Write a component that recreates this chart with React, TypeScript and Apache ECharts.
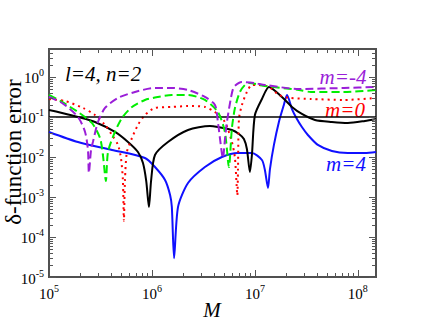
import React, { useEffect, useRef } from 'react';
import * as echarts from 'echarts';

// axis ranges
const xMin = 1e5;
const xMax = 1.5e8;
const yMin = 1e-5;
const yMax = 5;
const refLevel = 0.1;

const xMajorExp = [5, 6, 7, 8];
const yMajorExp = [-5, -4, -3, -2, -1, 0];

// m = -4 (purple dashed)
const mMinus4: [number, number][] = [
  [1e5, 0.316], [1.34e5, 0.224], [1.91e5, 0.1], [2.24e5, 0.0422], [2.39e5, 0.015],
  [2.44e5, 0.004], [2.56e5, 0.015], [2.67e5, 0.0237], [2.99e5, 0.075], [3.5e5, 0.168],
  [4.68e5, 0.299], [6.84e5, 0.422], [1.07e6, 0.531], [1.56e6, 0.531], [2.24e6, 0.473],
  [3.27e6, 0.316], [4.09e6, 0.2], [4.37e6, 0.075], [4.57e6, 0.03], [4.89e6, 0.0094],
  [5.11e6, 0.0266], [5.35e6, 0.075], [5.85e6, 0.299], [6.25e6, 0.562], [7.48e6, 0.75],
  [9.78e6, 0.708], [1.25e7, 0.631], [2.67e7, 0.5], [7.31e7, 0.531], [1.5e8, 0.562],
];

// m = -2 (green dashed)
const mMinus2: [number, number][] = [
  [1e5, 0.355], [1.34e5, 0.237], [1.91e5, 0.133], [2.61e5, 0.0708], [3.13e5, 0.0299],
  [3.34e5, 0.0112], [3.57e5, 0.0025], [3.74e5, 0.0133], [4.37e5, 0.0422], [5.11e5, 0.0944],
  [6.4e5, 0.178], [8.55e5, 0.266], [1.14e6, 0.316], [1.56e6, 0.355], [2.24e6, 0.355],
  [3.27e6, 0.266], [4.37e6, 0.133], [5.11e6, 0.0422], [5.59e6, 0.0056], [5.98e6, 0.0531],
  [6.4e6, 0.168], [7.15e6, 0.422], [8.0e6, 0.631], [8.75e6, 0.708], [1.25e7, 0.596],
  [2.67e7, 0.473], [3.5e7, 0.422], [7.31e7, 0.422], [1.5e8, 0.473],
];

// m = 0 (red dotted)
const m0: [number, number][] = [
  [1e5, 0.28], [1.43e5, 0.25], [2.14e5, 0.168], [2.8e5, 0.112], [3.5e5, 0.0631],
  [4.09e5, 0.0355], [4.68e5, 0.02], [5.0e5, 0.0094], [5.22e5, 0.0027], [5.34e5, 0.00025],
  [5.47e5, 0.0027], [5.71e5, 0.0133], [6.4e5, 0.0299], [7.31e5, 0.0631], [8.55e5, 0.112],
  [1.07e6, 0.168], [1.56e6, 0.178], [2.24e6, 0.188], [3.27e6, 0.178], [4.09e6, 0.133],
  [5.11e6, 0.075], [5.98e6, 0.0237], [6.4e6, 0.0094], [6.75e6, 0.0011], [6.85e6, 0.005],
  [7.0e6, 0.089], [7.48e6, 0.2], [8.36e6, 0.422], [9.35e6, 0.631], [1.07e7, 0.631],
  [1.37e7, 0.562], [1.71e7, 0.355], [2.19e7, 0.299], [3.5e7, 0.282], [7.31e7, 0.266],
  [1.5e8, 0.299],
];

// m = 2 (black solid)
const m2: [number, number][] = [
  [1e5, 0.15], [1.34e5, 0.126], [1.91e5, 0.1], [2.8e5, 0.075], [4.37e5, 0.0422],
  [5.85e5, 0.0237], [7.31e5, 0.0133], [8.18e5, 0.00708], [8.8e5, 0.0025], [9.35e5, 0.00056],
  [9.8e5, 0.0025], [1.07e6, 0.0112], [1.43e6, 0.0237], [2.24e6, 0.0473], [3.65e6, 0.0596],
  [4.37e6, 0.0562], [5.98e6, 0.0473], [7.0e6, 0.0376], [7.82e6, 0.0282], [8.36e6, 0.0158],
  [8.94e6, 0.0042], [9.35e6, 0.0112], [1.0e7, 0.112], [1.17e7, 0.282], [1.37e7, 0.562],
  [1.83e7, 0.316], [2.29e7, 0.178], [2.86e7, 0.119], [3.83e7, 0.0841], [5.59e7, 0.075],
  [8.0e7, 0.0708], [1.17e8, 0.0794], [1.5e8, 0.089],
];

// m = 4 (blue solid)
const m4: [number, number][] = [
  [1e5, 0.0422], [1.91e5, 0.0237], [4.09e5, 0.015], [8.55e5, 0.00944], [1.07e6, 0.00562],
  [1.34e6, 0.00266], [1.5e6, 0.00112], [1.56e6, 0.00056], [1.64e6, 2.95e-5], [1.79e6, 0.00056],
  [2.24e6, 0.00224], [3.27e6, 0.00562], [4.78e6, 0.01], [6.84e6, 0.0126], [9.35e6, 0.0126],
  [1.17e7, 0.00841], [1.25e7, 0.00473], [1.34e7, 0.00168], [1.4e7, 0.005], [1.53e7, 0.02],
  [1.71e7, 0.075], [1.91e7, 0.2], [2.05e7, 0.355], [2.29e7, 0.158], [2.56e7, 0.089],
  [2.86e7, 0.0562], [3.27e7, 0.0355], [4.09e7, 0.02], [5.59e7, 0.0141], [8.0e7, 0.0126],
  [1.17e8, 0.0126], [1.5e8, 0.0133],
];

const SERIF = 'Liberation Serif';
const tickColor = '#555';
const frameColor = '#505050';

function powLabel(v: number) {
  const e = Math.log10(v);
  const r = Math.round(e);
  if (Math.abs(e - r) > 1e-6) return '';
  return `{b|10}{s|${r}}`;
}

const richLabel = {
  b: { fontFamily: SERIF, fontSize: 15, color: '#000', verticalAlign: 'bottom', lineHeight: 18 },
  s: { fontFamily: SERIF, fontSize: 10, color: '#000', verticalAlign: 'top', lineHeight: 12 },
};

const txt = (text: string, x: number, y: number, color: string, size: number, italic: boolean, align = 'center', rotation = 0) => ({
  type: 'text', x, y, rotation, silent: true,
  style: {
    text, fill: color, fontFamily: SERIF, fontSize: size, fontStyle: italic ? 'italic' : 'normal',
    align, verticalAlign: 'middle',
  },
});

export default function App() {
  const ref = useRef<HTMLDivElement>(null);
  useEffect(() => {
    if (!ref.current) return;
    const chart = echarts.init(ref.current, undefined, { renderer: 'svg' });

    const xTicks: { v: number; major: boolean }[] = [];
    for (const e of xMajorExp) {
      xTicks.push({ v: Math.pow(10, e), major: true });
      for (let k = 2; k <= 9; k++) {
        const v = k * Math.pow(10, e);
        if (v < xMax) xTicks.push({ v, major: false });
      }
    }
    const yTicks: { v: number; major: boolean }[] = [];
    for (const e of yMajorExp) {
      yTicks.push({ v: Math.pow(10, e), major: true });
      for (let k = 2; k <= 9; k++) {
        const v = k * Math.pow(10, e);
        if (v < yMax) yTicks.push({ v, major: false });
      }
    }

    const line = (data: [number, number][], color: string, type: any, z = 2) => ({
      type: 'line',
      data,
      showSymbol: false,
      smooth: 0.25,
      z,
      lineStyle: { color, width: 2, type, cap: 'butt' },
      silent: true,
    });

    chart.setOption({
      animation: false,
      backgroundColor: '#fff',
      textStyle: { fontFamily: SERIF },
      grid: {
        left: 49, right: 47, top: 49, bottom: 50,
        show: true, borderColor: frameColor, borderWidth: 2, backgroundColor: 'transparent',
      },
      xAxis: {
        type: 'log', logBase: 10, min: xMin, max: xMax,
        axisLine: { show: false }, axisTick: { show: false }, splitLine: { show: false },
        axisLabel: { formatter: powLabel, margin: 6, rich: richLabel, showMaxLabel: false, fontFamily: SERIF },
      },
      yAxis: {
        type: 'log', logBase: 10, min: yMin, max: yMax,
        axisLine: { show: false }, axisTick: { show: false }, splitLine: { show: false },
        axisLabel: { formatter: powLabel, margin: 5, rich: richLabel, showMaxLabel: false, fontFamily: SERIF },
      },
      series: [
        line(m4, '#1010ff', 'solid', 3),
        line(m2, '#000000', 'solid', 3),
        line(m0, '#ff0000', [2, 4], 4),
        line(mMinus2, '#00ee00', [8, 4], 5),
        line(mMinus4, '#9a1ed8', [8, 4], 6),
        {
          type: 'line', data: [], silent: true,
          markLine: {
            symbol: 'none', silent: true, label: { show: false },
            lineStyle: { color: '#000', width: 1.5, type: 'solid' },
            data: [{ yAxis: refLevel }],
          },
        },
        {
          type: 'custom', silent: true, clip: false, z: 10,
          data: [[xMin, yMin]],
          renderItem: (params: any, api: any) => {
            const cs = params.coordSys;
            const left = cs.x, top = cs.y, right = cs.x + cs.width, bottom = cs.y + cs.height;
            const children: any[] = [];
            const add = (x1: number, y1: number, x2: number, y2: number) =>
              children.push({ type: 'line', shape: { x1, y1, x2, y2 }, style: { stroke: tickColor, lineWidth: 1 } });
            for (const t of xTicks) {
              const px = Math.round(api.coord([t.v, yMin])[0]) + 0.5;
              const L = t.major ? 7 : 4;
              add(px, bottom, px, bottom - L);
              add(px, top, px, top + L);
            }
            for (const t of yTicks) {
              const py = Math.round(api.coord([xMin, t.v])[1]) + 0.5;
              const L = t.major ? 7 : 4;
              add(left, py, left + L, py);
              add(right, py, right - L, py);
            }
            return { type: 'group', children };
          },
        },
      ],
      graphic: [
        txt('l=4, n=2', 65, 74, '#000', 21, true, 'left'),
        txt('m=-4', 343, 77, '#9a1ed8', 21, true),
        txt('m=0', 345, 110, '#ff0000', 21, true),
        txt('m=4', 346, 164, '#1010ff', 21, true),
        txt('δ-function error', 13, 152, '#000', 23, false, 'center', Math.PI / 2),
        txt('M', 212, 310, '#000', 21, true),
      ],
    });
    return () => chart.dispose();
  }, []);
  return <div ref={ref} style={{ position: 'absolute', left: 0, top: 0, width: 423, height: 327 }} />;
}
